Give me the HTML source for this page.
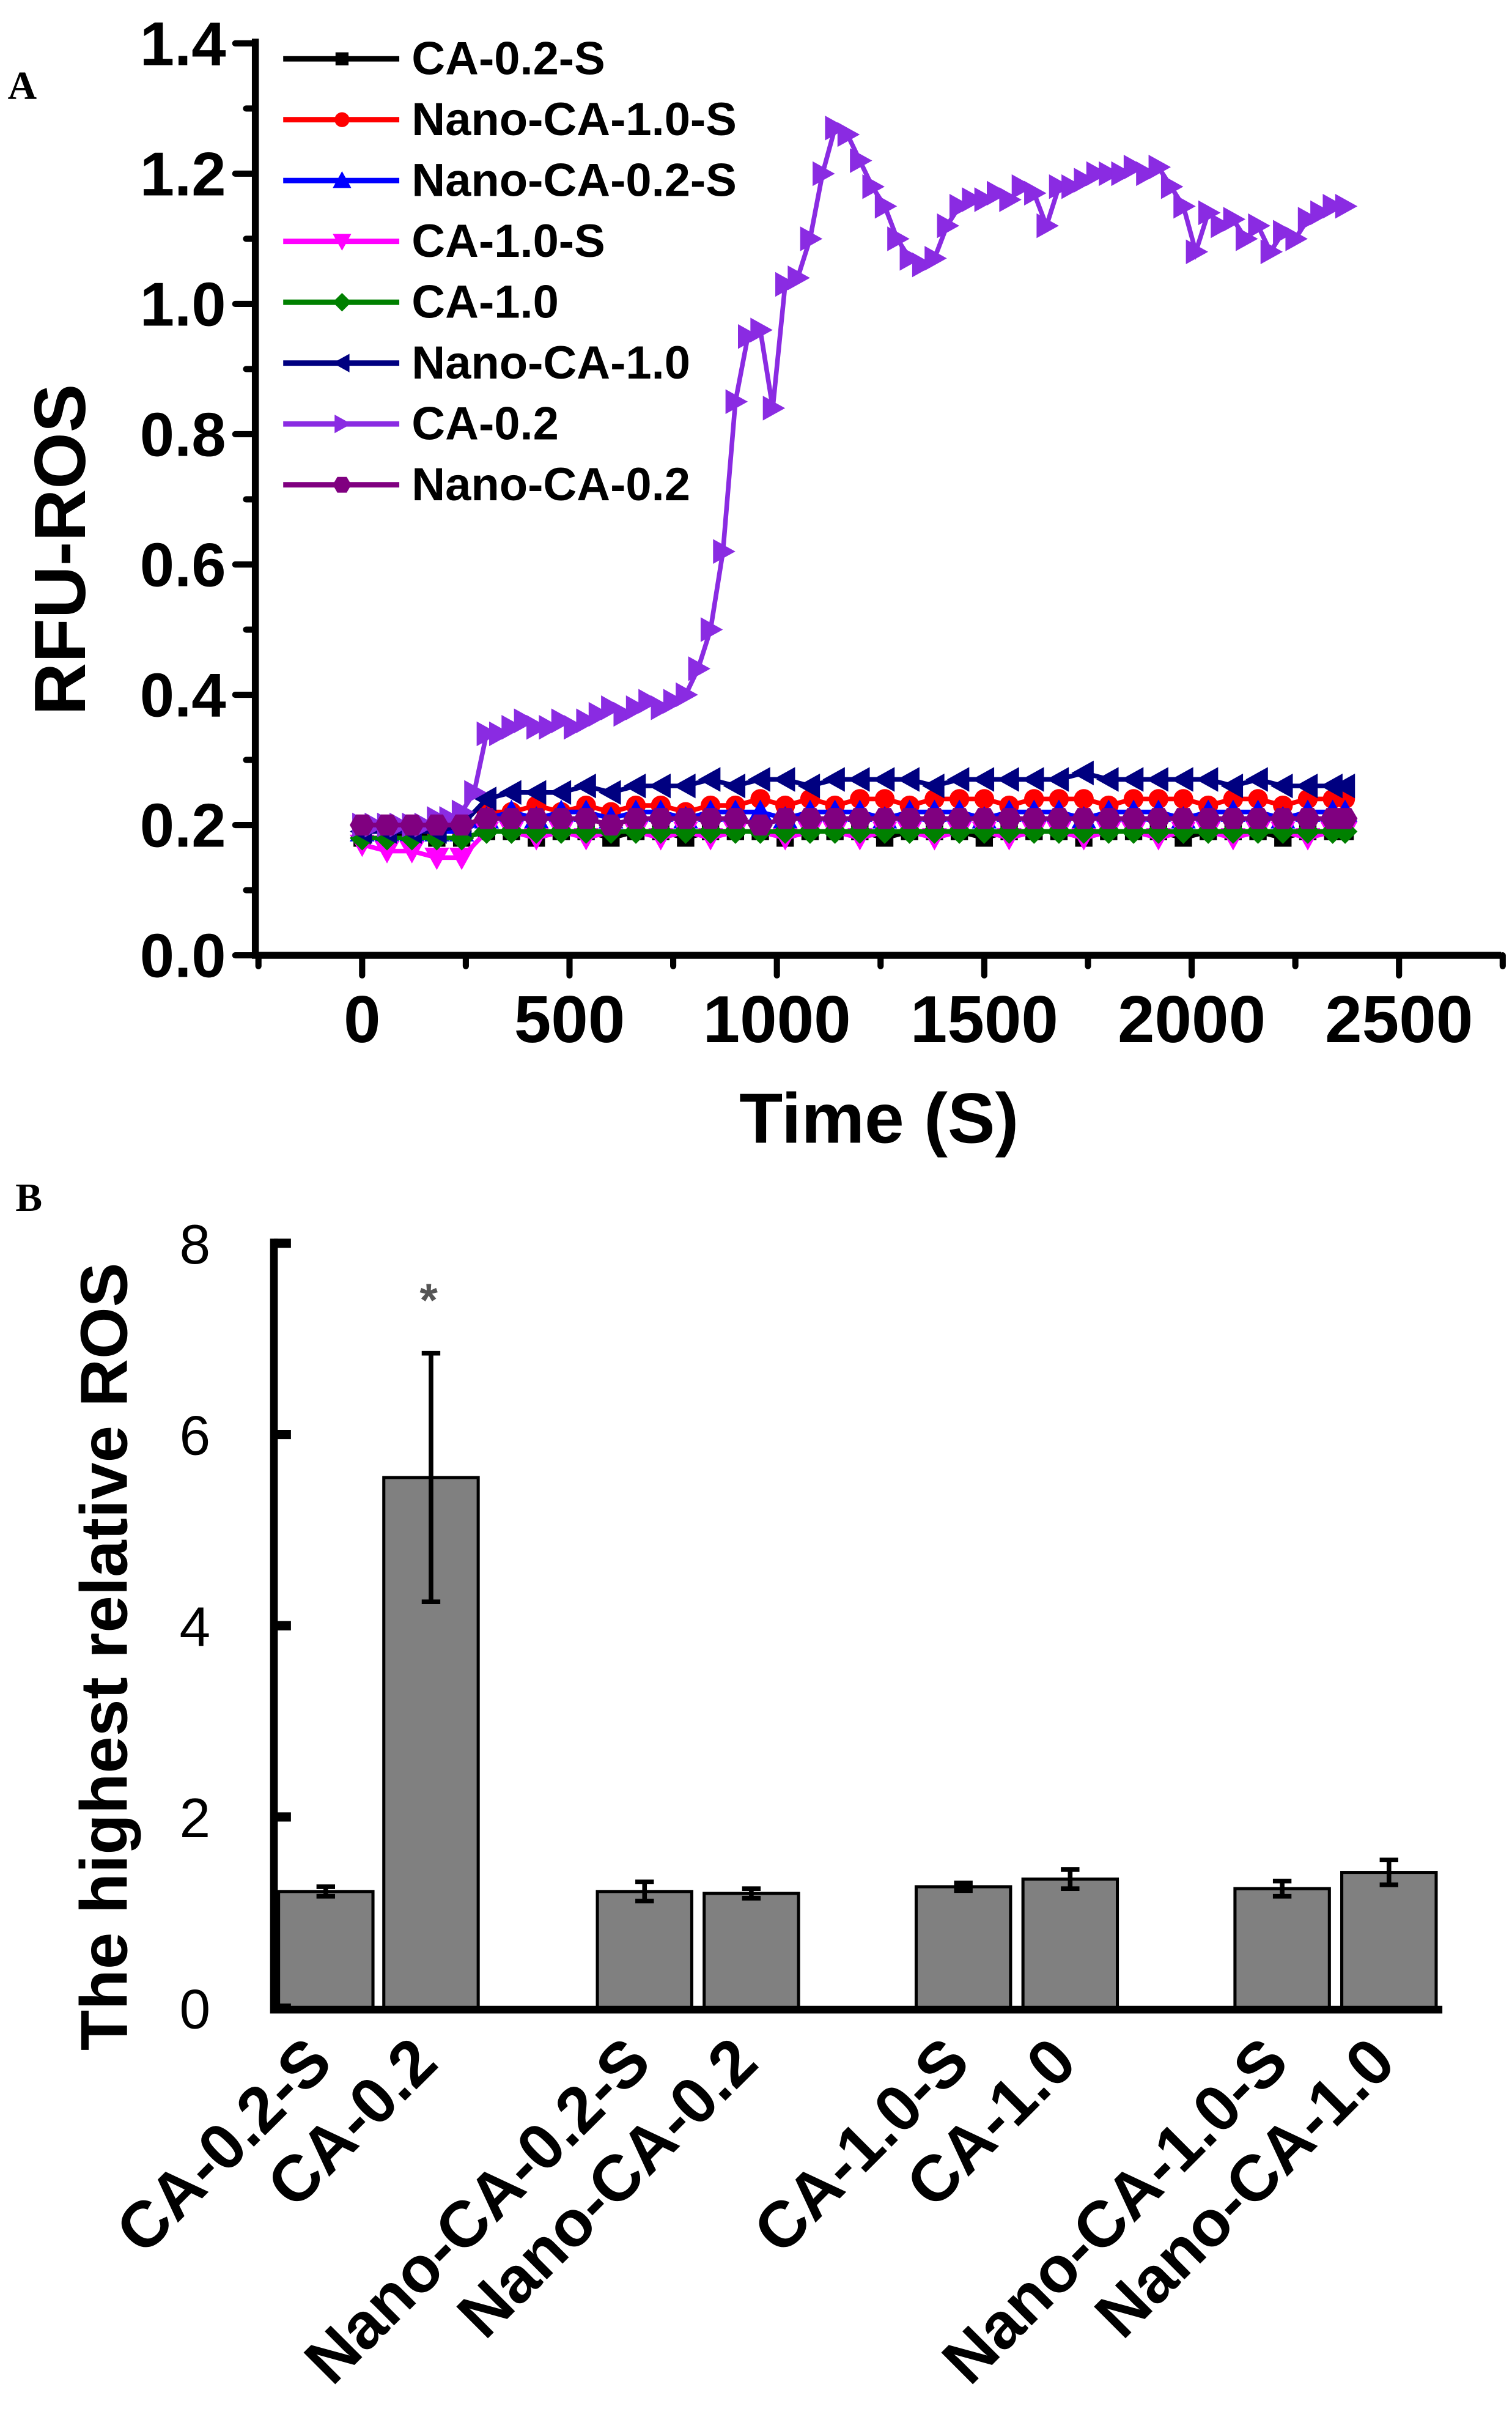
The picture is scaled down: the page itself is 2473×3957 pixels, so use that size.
<!DOCTYPE html>
<html><head><meta charset="utf-8"><style>
html,body{margin:0;padding:0;background:#fff;}
svg{display:block;font-family:"Liberation Sans",Arial,sans-serif;}
</style></head><body>
<svg id="fig" width="2473" height="3957" viewBox="0 0 977 1563" preserveAspectRatio="none">
<g id="panelA"></g>
<g id="panelB"></g>
</svg>
<script>
// ---------- Panel A data ----------
const timesA = [0,30,60,90,120,150,180,210,240,270,300,330,360,390,420,450,480,510,540,570,600,630,660,690,720,750,780,810,840,870,900,930,960,990,1020,1050,1080,1110,1140,1170,1200,1230,1260,1290,1320,1350,1380,1410,1440,1470,1500,1530,1560,1590,1620,1650,1680,1710,1740,1770,1800,1830,1860,1890,1920,1950,1980,2010,2040,2070,2100,2130,2160,2190,2220,2250,2280,2310,2340,2370];
const ca02 = [0.20,0.20,0.20,0.20,0.20,0.20,0.21,0.21,0.22,0.25,0.34,0.34,0.35,0.36,0.35,0.35,0.36,0.35,0.36,0.37,0.38,0.37,0.38,0.39,0.38,0.39,0.40,0.44,0.50,0.62,0.85,0.95,0.96,0.84,1.03,1.04,1.10,1.20,1.27,1.26,1.22,1.18,1.15,1.10,1.07,1.06,1.07,1.12,1.15,1.16,1.16,1.17,1.16,1.18,1.17,1.12,1.18,1.18,1.19,1.20,1.20,1.20,1.21,1.20,1.21,1.18,1.15,1.08,1.14,1.12,1.13,1.10,1.12,1.08,1.11,1.10,1.13,1.14,1.15,1.15];
const timesLow = [0,60,120,180,240,300,360,420,480,540,600,660,720,780,840,900,960,1020,1080,1140,1200,1260,1320,1380,1440,1500,1560,1620,1680,1740,1800,1860,1920,1980,2040,2100,2160,2220,2280,2340,2370];
const ca02s  = [0.18,0.18,0.19,0.18,0.18,0.19,0.19,0.18,0.19,0.19,0.18,0.19,0.19,0.18,0.19,0.19,0.19,0.18,0.19,0.19,0.19,0.18,0.19,0.19,0.19,0.18,0.19,0.19,0.19,0.18,0.19,0.19,0.19,0.18,0.19,0.19,0.19,0.18,0.19,0.19,0.19];
const nano10s= [0.19,0.19,0.19,0.19,0.19,0.22,0.22,0.23,0.22,0.23,0.22,0.23,0.23,0.22,0.23,0.23,0.24,0.23,0.24,0.23,0.24,0.24,0.23,0.24,0.24,0.24,0.23,0.24,0.24,0.24,0.23,0.24,0.24,0.24,0.23,0.24,0.24,0.23,0.24,0.24,0.24];
const nano02s= [0.19,0.19,0.19,0.19,0.19,0.21,0.22,0.21,0.22,0.22,0.21,0.22,0.22,0.21,0.22,0.22,0.22,0.21,0.22,0.22,0.22,0.21,0.22,0.22,0.22,0.21,0.22,0.22,0.22,0.21,0.22,0.22,0.22,0.21,0.22,0.22,0.22,0.21,0.22,0.22,0.22];
const ca10s  = [0.17,0.16,0.16,0.15,0.15,0.19,0.19,0.18,0.19,0.18,0.19,0.19,0.18,0.19,0.18,0.19,0.19,0.18,0.19,0.19,0.18,0.19,0.19,0.18,0.19,0.19,0.18,0.19,0.19,0.18,0.19,0.19,0.18,0.19,0.19,0.18,0.19,0.19,0.18,0.19,0.19];
const ca10   = [0.18,0.18,0.18,0.18,0.18,0.19,0.19,0.19,0.19,0.19,0.19,0.19,0.19,0.19,0.19,0.19,0.19,0.19,0.19,0.19,0.19,0.19,0.19,0.19,0.19,0.19,0.19,0.19,0.19,0.19,0.19,0.19,0.19,0.19,0.19,0.19,0.19,0.19,0.19,0.19,0.19];
const nano10 = [0.19,0.19,0.19,0.19,0.20,0.24,0.25,0.25,0.25,0.26,0.25,0.26,0.26,0.26,0.27,0.26,0.27,0.27,0.26,0.27,0.27,0.27,0.27,0.26,0.27,0.27,0.27,0.27,0.27,0.28,0.27,0.27,0.27,0.27,0.27,0.26,0.27,0.26,0.26,0.26,0.26];
const nano02 = [0.20,0.20,0.20,0.20,0.20,0.21,0.21,0.21,0.21,0.21,0.20,0.21,0.21,0.21,0.21,0.21,0.20,0.21,0.21,0.21,0.21,0.21,0.21,0.21,0.21,0.21,0.21,0.21,0.21,0.21,0.21,0.21,0.21,0.21,0.21,0.21,0.21,0.21,0.21,0.21,0.21];
const yTicksA = [0.0,0.2,0.4,0.6,0.8,1.0,1.2,1.4];
const xTicksA = [0,500,1000,1500,2000,2500];
const legendLabels = ["CA-0.2-S","Nano-CA-1.0-S","Nano-CA-0.2-S","CA-1.0-S","CA-1.0","Nano-CA-1.0","CA-0.2","Nano-CA-0.2"];

// ---------- Panel B data ----------
const catsB = ["CA-0.2-S","CA-0.2","Nano-CA-0.2-S","Nano-CA-0.2","CA-1.0-S","CA-1.0","Nano-CA-1.0-S","Nano-CA-1.0"];
const valsB = [1.22,5.55,1.22,1.20,1.27,1.35,1.25,1.42];
const errsB = [0.05,1.30,0.10,0.05,0.04,0.10,0.08,0.13];
const yTicksB = [0,2,4,6,8];

const NS="http://www.w3.org/2000/svg";
function mk(tag,attrs,parent,text){const e=document.createElementNS(NS,tag);for(const k in attrs)e.setAttribute(k,attrs[k]);if(text!==undefined)e.textContent=text;parent.appendChild(e);return e;}

// ---------- Panel A ----------
const A=document.getElementById('panelA');
const xA=t=>234+t*0.268;
const yA=v=>617-v*420.7;
let e;
e=mk('text',{x:5,y:64,'font-family':'Liberation Serif,serif','font-weight':'bold','font-size':26},A,'A');


e=mk('path',{d:'M165,25 V617 H970',fill:'none',stroke:'#000','stroke-width':4.5},A);


for(let v=0;v<=14;v++){const y=yA(v/10);mk('line',{x1:165,x2:v%2?159:152,y1:y,y2:y,stroke:'#000','stroke-width':4,'stroke-linecap':'round'},A);}
yTicksA.forEach(v=>{e=mk('text',{x:146,y:yA(v)+14,'text-anchor':'end','font-weight':'bold','font-size':40},A,v.toFixed(1));

});
for(let t=-250;t<=2750;t+=250){const x=xA(t);if(x<165||x>972)continue;mk('line',{x1:x,x2:x,y1:617,y2:(t%500===0)?630:624,stroke:'#000','stroke-width':4,'stroke-linecap':'round'},A);}
xTicksA.forEach(t=>{e=mk('text',{x:xA(t),y:673,'text-anchor':'middle','font-weight':'bold','font-size':43},A,String(t));

});
e=mk('text',{x:568,y:738,'text-anchor':'middle','font-weight':'bold','font-size':46},A,'Time (S)');


e=mk('text',{x:0,y:0,transform:'translate(55,355) rotate(-90)','text-anchor':'middle','font-weight':'bold','font-size':47},A,'RFU-ROS');



function marker(g,shape,x,y,c,s){
  s=s||6;
  if(shape==='sq')mk('rect',{x:x-s*0.7,y:y-s*0.7,width:s*1.4,height:s*1.4,fill:c},g);
  else if(shape==='circ')mk('circle',{cx:x,cy:y,r:s*0.8,fill:c},g);
  else if(shape==='up')mk('polygon',{points:`${x},${y-s} ${x-s},${y+s*0.8} ${x+s},${y+s*0.8}`,fill:c},g);
  else if(shape==='down')mk('polygon',{points:`${x},${y+s} ${x-s},${y-s*0.8} ${x+s},${y-s*0.8}`,fill:c},g);
  else if(shape==='dia')mk('polygon',{points:`${x},${y-s} ${x+s},${y} ${x},${y+s} ${x-s},${y}`,fill:c},g);
  else if(shape==='left')mk('polygon',{points:`${x-s},${y} ${x+s*0.8},${y-s} ${x+s*0.8},${y+s}`,fill:c},g);
  else if(shape==='right')mk('polygon',{points:`${x+s},${y} ${x-s*0.8},${y-s} ${x-s*0.8},${y+s}`,fill:c},g);
  else if(shape==='hex')mk('polygon',{points:`${x-s},${y} ${x-s/2},${y-s*0.85} ${x+s/2},${y-s*0.85} ${x+s},${y} ${x+s/2},${y+s*0.85} ${x-s/2},${y+s*0.85}`,fill:c},g);
}
const series=[
 {name:'series-ca-0-2-s',t:timesLow,v:ca02s,c:'#000',m:'sq'},
 {name:'series-nano-ca-1-0-s',t:timesLow,v:nano10s,c:'#ff0000',m:'circ'},
 {name:'series-nano-ca-0-2-s',t:timesLow,v:nano02s,c:'#0000ff',m:'up'},
 {name:'series-ca-1-0-s',t:timesLow,v:ca10s,c:'#ff00ff',m:'down'},
 {name:'series-ca-1-0',t:timesLow,v:ca10,c:'#008000',m:'dia'},
 {name:'series-nano-ca-1-0',t:timesLow,v:nano10,c:'#000080',m:'left'},
 {name:'series-ca-0-2',t:timesA,v:ca02,c:'#8a2be2',m:'right'},
 {name:'series-nano-ca-0-2',t:timesLow,v:nano02,c:'#800080',m:'hex'}
];
series.forEach(s=>{
  const g=mk('g',{},A);
  
  
  mk('polyline',{points:s.t.map((t,i)=>xA(t)+','+yA(s.v[i])).join(' '),fill:'none',stroke:s.c,'stroke-width':3},g);
  s.t.forEach((t,i)=>marker(g,s.m,xA(t),yA(s.v[i]),s.c,8));
});
legendLabels.forEach((lab,i)=>{
  const y=38+i*39.3;const s=series[i];
  const g=mk('g',{},A);
  
  
  mk('line',{x1:183,x2:258,y1:y,y2:y,stroke:s.c,'stroke-width':3.5},g);
  marker(g,s.m,221,y,s.c,6);
  mk('text',{x:266,y:y+10,'font-weight':'bold','font-size':30},g,lab);
});

// ---------- Panel B ----------
const B=document.getElementById('panelB');
const yB=v=>1297-v*61.75;
const barX=[180,248,386,455,592,661,798,867];
e=mk('text',{x:10,y:782,'font-family':'Liberation Serif,serif','font-weight':'bold','font-size':26},B,'B');


catsB.forEach((c,i)=>{
  const x=barX[i],w=61,v=valsB[i],er=errsB[i],cx=x+w/2;
  const g=mk('g',{},B);
  
  
  mk('rect',{x:x,y:yB(v),width:w,height:yB(0)-yB(v),fill:'#808080',stroke:'#000','stroke-width':2},g);
  mk('line',{x1:cx,x2:cx,y1:yB(v+er),y2:yB(v-er),stroke:'#000','stroke-width':3},g);
  mk('line',{x1:cx-6,x2:cx+6,y1:yB(v+er),y2:yB(v+er),stroke:'#000','stroke-width':3},g);
  mk('line',{x1:cx-6,x2:cx+6,y1:yB(v-er),y2:yB(v-er),stroke:'#000','stroke-width':3},g);
  const l=mk('text',{x:0,y:0,transform:`translate(${cx+6},${1334}) rotate(-45)`,'text-anchor':'end','font-weight':'bold','font-size':42},B,c);
  
  
});
e=mk('path',{d:'M177,800 V1298 H932',fill:'none',stroke:'#000','stroke-width':5},B);


yTicksB.forEach(v=>{const y=yB(v);mk('line',{x1:177,x2:188,y1:y,y2:y,stroke:'#000','stroke-width':6},B);
e=mk('text',{x:136,y:y+13,'text-anchor':'end','font-size':36},B,String(v));

});
e=mk('text',{x:0,y:0,transform:'translate(82,1070) rotate(-90)','text-anchor':'middle','font-weight':'bold','font-size':43},B,'The highest relative ROS');


e=mk('text',{x:277,y:850,'text-anchor':'middle','font-weight':'bold','font-size':30,fill:'#555'},B,'*');


</script>
</body></html>
